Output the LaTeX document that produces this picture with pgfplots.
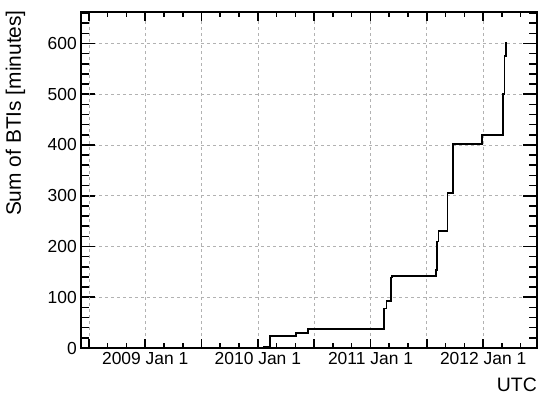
\documentclass[border=0pt]{standalone}
\usepackage{fontspec}
\setmainfont{Liberation Sans}
\usepackage{pgfplots}
\pgfplotsset{compat=1.18}

\pgfplotsset{
  rootframe/.style={
    scale only axis,
    width=456bp, height=336bp,
    xmin=2008.43, xmax=2012.477,
    ymin=0, ymax=662,
    tick align=inside,
    axis line style={line width=1.8bp},
    every tick/.style={black, line width=1.6bp},
    grid style={gray!60, line width=0.7bp, dash pattern=on 3bp off 3bp},
    /pgf/number format/assume math mode=true,
    tick label style={font=\fontsize{17.5}{20}\selectfont},
  },
}

\begin{document}
\begin{tikzpicture}
% fixed page size: axis box 456x336 bp, placed at the origin
\useasboundingbox (-81bp,-46bp) rectangle (457bp,348bp);
% y axis: ticks, grid and labels
\begin{axis}[
    rootframe,
    xtick=\empty,
    ytick={0,100,...,600},
    minor ytick={0,20,...,660},
    major tick length=14bp, minor tick length=8bp,
    ymajorgrids=true,
    yticklabel style={inner sep=0pt, xshift=-4bp},
    ylabel={Sum of BTIs [minutes]},
    ylabel style={font=\fontsize{21}{24}\selectfont, at={([xshift=-60bp,yshift=2bp]axis description cs:0,1)}, anchor=base east, inner sep=0pt},
]
\end{axis}
% x axis (time in years) and the data
\begin{axis}[
    rootframe,
    ytick=\empty,
    xtick={2008.5,2009,...,2012},
    xticklabels={,2009 Jan 1,,2010 Jan 1,,2011 Jan 1,,2012 Jan 1},
    minor xtick={2008.6667,2008.8333,...,2012.34},
    major tick length=9bp, minor tick length=5bp,
    xmajorgrids=true,
    xticklabel style={inner sep=0pt, yshift=-4bp},
    xlabel={UTC},
    xlabel style={font=\fontsize{19.5}{22}\selectfont, at={([yshift=-43bp]axis description cs:1,0)}, anchor=base east, inner sep=0pt},
]
% cumulative BTI duration (step function)
\addplot[const plot, black, line width=1.8bp] coordinates {
    (2008.44,0)
    (2010.054,3)
    (2010.107,24)
    (2010.338,30)
    (2010.447,38)
    (2011.121,78)
    (2011.142,92)
    (2011.181,139)
    (2011.190,142)
    (2011.580,153)
    (2011.589,210)
    (2011.602,231)
    (2011.682,305)
    (2011.734,402)
    (2011.988,420)
    (2012.177,500)
    (2012.188,575)
    (2012.199,603)
};
\end{axis}
\end{tikzpicture}
\end{document}
